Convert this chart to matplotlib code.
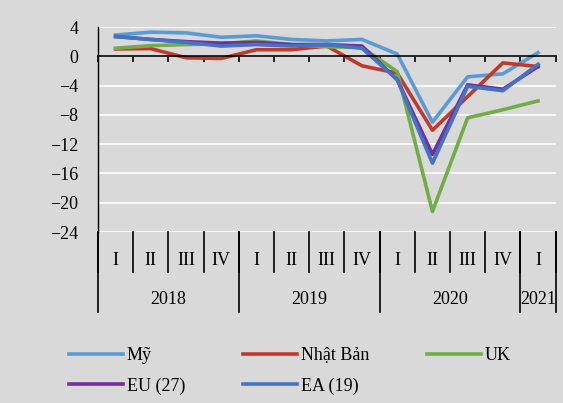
import matplotlib
matplotlib.use("Agg")
from matplotlib import pyplot as plt

plt.rcParams['font.family'] = ['Liberation Serif', 'DejaVu Serif']

quarters = ["I", "II", "III", "IV", "I", "II", "III", "IV", "I", "II", "III", "IV", "I"]
years = ["2018", "2019", "2020", "2021"]
year_len = [4, 4, 4, 1]

my = [2.9, 3.3, 3.2, 2.6, 2.8, 2.3, 2.1, 2.3, 0.3, -9.0, -2.8, -2.4, 0.5]
nhat_ban = [1.0, 1.05, -0.2, -0.3, 0.9, 0.9, 1.4, -1.3, -2.3, -10.1, -5.5, -0.9, -1.4]
uk = [1.1, 1.45, 1.6, 1.7, 2.1, 1.6, 1.3, 1.2, -2.1, -21.2, -8.4, -7.3, -6.1]
eu27 = [2.7, 2.3, 2.0, 1.8, 1.9, 1.6, 1.6, 1.4, -3.2, -13.4, -3.9, -4.5, -1.4]
ea19 = [2.7, 2.3, 1.9, 1.4, 1.6, 1.4, 1.6, 1.1, -3.2, -14.6, -4.1, -4.7, -1.1]

bg = '#d9d9d9'
fs = 13
fig = plt.figure(figsize=(5.63, 4.03), dpi=100, facecolor=bg)
ax = fig.add_axes([0.174, 0.4243, 0.813, 0.5087], facecolor=bg)

x = list(range(len(quarters)))
lw = 2.6
l1, = ax.plot(x, my, color='#5b9bd5', lw=lw, label='Mỹ', solid_joinstyle='round')
l2, = ax.plot(x, nhat_ban, color='#c0392b', lw=lw, label='Nhật Bản', solid_joinstyle='round')
l3, = ax.plot(x, uk, color='#70ad47', lw=lw, label='UK', solid_joinstyle='round')
l4, = ax.plot(x, eu27, color='#7030a0', lw=lw, label='EU (27)', solid_joinstyle='round')
l5, = ax.plot(x, ea19, color='#4472c4', lw=lw, label='EA (19)', solid_joinstyle='round')

ax.set_xlim(-0.5, len(quarters) - 0.5)
ax.set_ylim(-24, 4)
ax.set_yticks(range(-24, 5, 4))
ax.grid(axis='y', color='white', lw=1.2)
ax.set_axisbelow(True)
ax.tick_params(axis='y', length=0, pad=14, labelsize=fs)

for s in ['top', 'right']:
    ax.spines[s].set_visible(False)
ax.spines['bottom'].set_position(('data', 0))
ax.spines['bottom'].set_linewidth(1.2)
ax.spines['left'].set_linewidth(1.0)
ax.set_xticks([b - 0.5 for b in range(len(quarters) + 1)])
ax.set_xticklabels([])
ax.tick_params(axis='x', direction='out', length=4.5, width=1.2)

# category labels below the plot
tr = ax.get_xaxis_transform()
for i, q in enumerate(quarters):
    ax.text(i, -0.137, q, transform=tr, ha='center', va='center', fontsize=fs)
for b in range(len(quarters) + 1):
    ax.plot([b - 0.5, b - 0.5], [0, -0.194], transform=tr, color='black', lw=1.2, clip_on=False)
start = 0
for y, n in zip(years, year_len):
    ax.text(start + (n - 1) / 2, -0.327, y, transform=tr, ha='center', va='center', fontsize=fs)
    ax.plot([start - 0.5, start - 0.5], [0, -0.389], transform=tr, color='black', lw=1.2, clip_on=False)
    start += n
ax.plot([start - 0.5, start - 0.5], [0, -0.389], transform=tr, color='black', lw=1.2, clip_on=False)

fig.legend([l1, l4, l2, l5, l3], ['Mỹ', 'EU (27)', 'Nhật Bản', 'EA (19)', 'UK'],
           ncol=3, loc='center', bbox_to_anchor=(0.515, 0.08), frameon=False,
           fontsize=fs, handlelength=3.0, handletextpad=0.2, columnspacing=3.2,
           labelspacing=0.75)

fig.savefig('out.png', dpi=100, facecolor=bg)
